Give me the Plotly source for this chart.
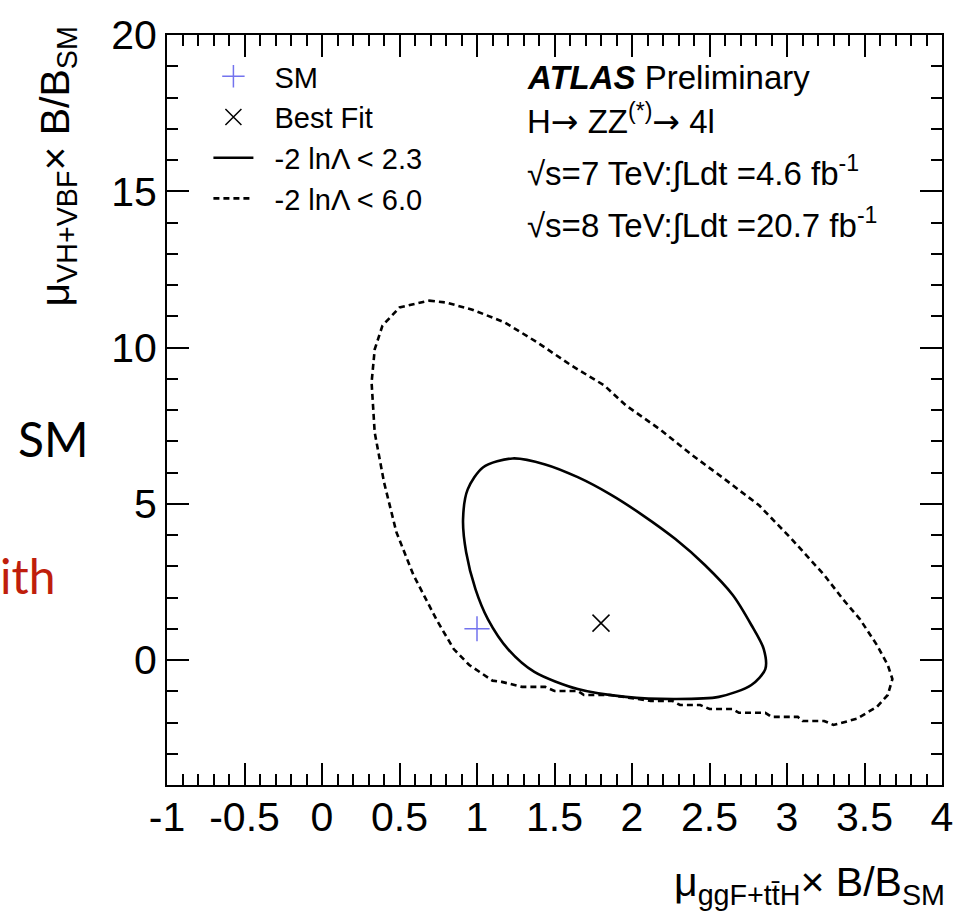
import plotly.graph_objects as go

# ---- data ----
solid_x = [1.23, 1.44, 1.65, 1.86, 2.07, 2.28, 2.47, 2.65, 2.77, 2.85, 2.86, 2.77,
           2.56, 2.28, 1.96, 1.65, 1.37, 1.20, 1.07, 0.99, 0.93, 0.91, 0.94, 1.04, 1.23]
solid_y = [6.45, 6.26, 5.85, 5.30, 4.63, 3.87, 3.04, 2.08, 1.12, 0.35, -0.29, -0.80,
           -1.18, -1.25, -1.18, -0.93, -0.38, 0.35, 1.31, 2.27, 3.45, 4.50, 5.46, 6.17, 6.45]

dashed_x = [0.69, 0.80, 0.97, 1.18, 1.39, 1.61, 1.82, 1.96, 2.18, 2.39, 2.60, 2.82, 3.03,
            3.24, 3.36, 3.47, 3.58, 3.65, 3.68, 3.65, 3.58, 3.45, 3.30,
            3.24, 3.10, 3.07, 2.90, 2.86, 2.69, 2.65, 2.50, 2.44, 2.31, 2.26, 2.12,
            1.86, 1.69, 1.65, 1.50, 1.44, 1.29, 1.16, 1.10, 0.95, 0.85, 0.74,
            0.59, 0.48, 0.40, 0.34, 0.32, 0.34, 0.39, 0.50, 0.69]
dashed_y = [11.50, 11.44, 11.21, 10.80, 10.16, 9.42, 8.79, 8.15, 7.38, 6.55, 5.78, 4.95, 3.87,
            2.72, 1.95, 1.31, 0.48, -0.16, -0.61, -1.12, -1.50, -1.88, -2.08,
            -1.95, -1.95, -1.82, -1.82, -1.69, -1.69, -1.57, -1.57, -1.44, -1.44, -1.31, -1.31,
            -1.12, -1.12, -0.99, -0.99, -0.86, -0.86, -0.70, -0.66, -0.16, 0.35, 1.28,
            2.72, 4.09, 5.69, 7.28, 8.88, 9.94, 10.70, 11.28, 11.50]

sm_point = (1.0, 1.0)
best_fit = (1.80, 1.18)

x_tick_vals = [-1, -0.5, 0, 0.5, 1, 1.5, 2, 2.5, 3, 3.5, 4]
x_tick_text = ["-1", "-0.5", "0", "0.5", "1", "1.5", "2", "2.5", "3", "3.5", "4"]
y_tick_vals = [0, 5, 10, 15, 20]
y_tick_text = ["0", "5", "10", "15", "20"]

legend_names = ["SM", "Best Fit", "-2 ln\u039b < 2.3", "-2 ln\u039b < 6.0"]

FONT = "Liberation Sans, Arial, Helvetica, sans-serif"
PAD = "\u00a0\u00a0"
ARROW = "<span style='font-family:DejaVu Sans'>\u2192</span>"

fig = go.Figure()
fig.add_trace(go.Scatter(x=[sm_point[0]], y=[sm_point[1]], mode="markers", name=PAD + legend_names[0],
                         marker=dict(symbol="cross-thin", size=18, color="#7373ee",
                                     line=dict(color="#7373ee", width=1.5)), legendrank=1))
fig.add_trace(go.Scatter(x=[best_fit[0]], y=[best_fit[1]], mode="markers", name=PAD + legend_names[1],
                         marker=dict(symbol="x-thin", size=17, color="black",
                                     line=dict(color="black", width=1.5)), legendrank=2))
fig.add_trace(go.Scatter(x=solid_x, y=solid_y, mode="lines", name=PAD + legend_names[2],
                         line=dict(color="black", width=2.6, shape="spline", smoothing=0.8), legendrank=3))
fig.add_trace(go.Scatter(x=dashed_x, y=dashed_y, mode="lines", name=PAD + legend_names[3],
                         line=dict(color="black", width=2.6, dash="6px,4px"), legendrank=4))

W, H = 965, 923
L, R, T, B = 167, 12, 32, 138
pw, ph = W - L - R, H - T - B


def px(xp):
    return (xp - L) / pw


def py(yp):
    return (H - B - yp) / ph


axis_common = dict(showgrid=False, zeroline=False, showline=True, linecolor="black", linewidth=2,
                   mirror="allticks", ticks="inside", ticklen=22, tickwidth=1.5, tickcolor="black",
                   tickfont=dict(family=FONT, size=41, color="black"))

fig.update_xaxes(range=[-1, 4], tickvals=x_tick_vals, ticktext=x_tick_text, ticklabelstandoff=-5,
                 minor=dict(dtick=0.1, tick0=-1, ticks="inside", ticklen=11, tickwidth=1.5, tickcolor="black"),
                 **axis_common)
fig.update_yaxes(range=[-4, 20], tickvals=y_tick_vals, ticktext=y_tick_text,
                 minor=dict(dtick=1, tick0=-4, ticks="inside", ticklen=11, tickwidth=1.5, tickcolor="black"),
                 **axis_common)

annotations = [
    dict(text="<b><i>ATLAS</i></b> Preliminary", x=px(530), y=py(75), xanchor="left", yanchor="middle"),
    dict(text="H" + ARROW + " ZZ<sup>(*)</sup>" + ARROW + " 4l", x=px(530), y=py(117), xanchor="left", yanchor="middle"),
    dict(text="\u221as=7 TeV:\u222bLdt =4.6 fb<sup>-1</sup>", x=px(530), y=py(169), xanchor="left", yanchor="middle"),
    dict(text="\u221as=8 TeV:\u222bLdt =20.7 fb<sup>-1</sup>", x=px(530), y=py(221), xanchor="left", yanchor="middle"),
]
for a in annotations:
    a.update(xref="paper", yref="paper", showarrow=False, font=dict(family=FONT, size=33, color="black"))

annotations.append(dict(text="\u03bc<sub>ggF+tt\u0304H</sub>\u00d7 B/B<sub>SM</sub>", x=px(958), y=py(885),
                        xanchor="right", yanchor="middle", xref="paper", yref="paper", showarrow=False,
                        font=dict(family=FONT, size=41, color="black")))
annotations.append(dict(text="\u03bc<sub>VH+VBF</sub>\u00d7 B/B<sub>SM</sub>", x=px(56), y=py(22),
                        xanchor="center", yanchor="top", textangle=-90, xref="paper", yref="paper",
                        showarrow=False, font=dict(family=FONT, size=41, color="black")))
annotations.append(dict(text="SM", x=px(52), y=py(437), xanchor="center", yanchor="middle",
                        xref="paper", yref="paper", showarrow=False,
                        font=dict(family="Lato, sans-serif", size=48, color="black")))
annotations.append(dict(text="ith", x=px(56), y=py(575), xanchor="right", yanchor="middle",
                        xref="paper", yref="paper", showarrow=False,
                        font=dict(family="Lato, sans-serif", size=48, color="#bf1e0c")))

fig.update_layout(
    width=W, height=H, margin=dict(l=L, r=R, t=T, b=B),
    plot_bgcolor="white", paper_bgcolor="white",
    annotations=annotations,
    showlegend=True,
    legend=dict(x=px(209), y=py(48), xanchor="left", yanchor="top", bgcolor="rgba(0,0,0,0)",
                font=dict(family=FONT, size=29, color="black"), itemwidth=40, tracegroupgap=0),
)

fig.write_html("out.html")
